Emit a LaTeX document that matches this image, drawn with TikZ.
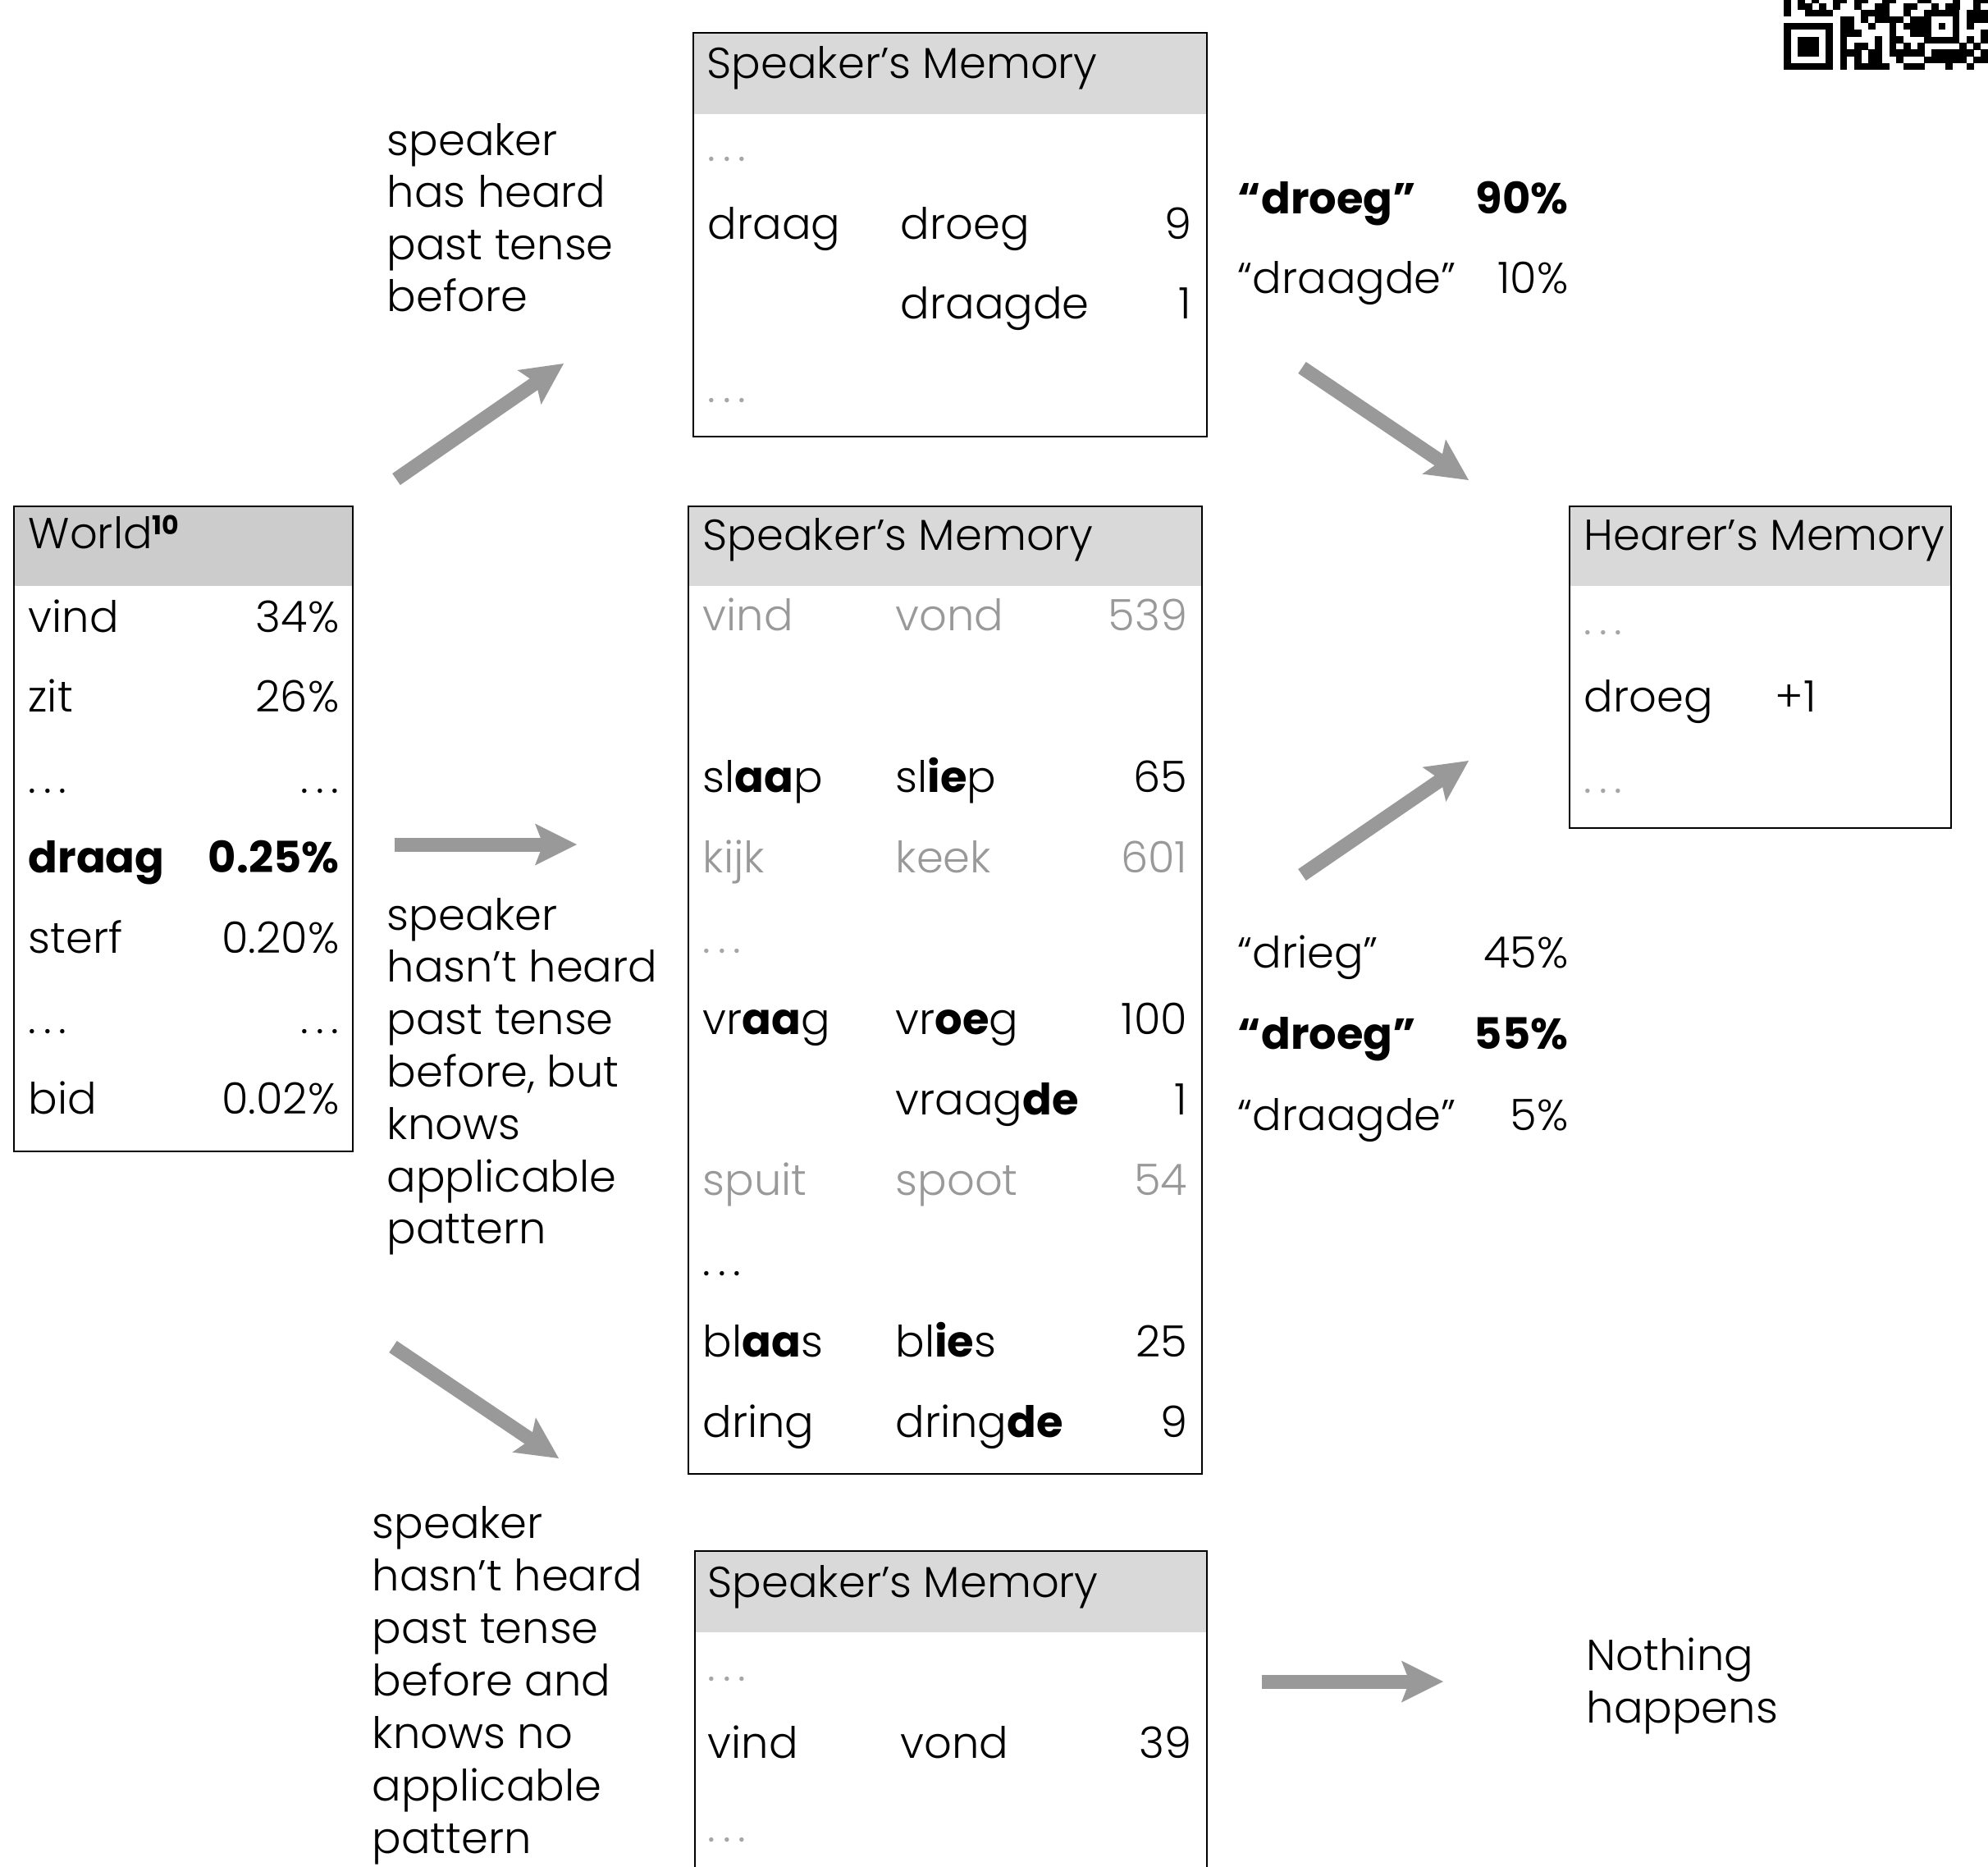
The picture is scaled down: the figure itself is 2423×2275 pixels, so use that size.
\documentclass[tikz,border=0pt]{standalone}
\usepackage{fontspec}
\setmainfont{Poppins}[UprightFont=* Light, BoldFont=* Bold]
\usetikzlibrary{arrows.meta,fit}
\definecolor{hdrA}{HTML}{CCCCCC}
\definecolor{hdrB}{HTML}{D9D9D9}
\definecolor{arrowgray}{HTML}{999999}
\definecolor{txtgray}{HTML}{999999}
\definecolor{dotgray}{HTML}{A6A6A6}
\newcommand{\spdots}{.\kern0.17em.\kern0.17em.}
\begin{document}
\begin{tikzpicture}[x=0.01cm, y=-0.01cm, font=\fontsize{15}{18}\selectfont,
  tl/.style={inner sep=0pt, anchor=base west},
  tr/.style={inner sep=0pt, anchor=base east},
  memframe/.style={draw=black, line width=0.6pt, inner sep=0pt},
  bigarrow/.style={draw=arrowgray, line width=0.17cm,
    -{Stealth[length=0.51cm, width=0.51cm, inset=0.1cm, line width=0pt]}},
  dimrow/.style={text=txtgray},
  dotrow/.style={text=dotgray}]
\useasboundingbox (0,0) rectangle (2423,2275);
\begin{scope}
\clip (0,0) rectangle (2423,2275);

% ---------- header bands ----------
\fill[hdrA] (17,617) rectangle (430,714);
\fill[hdrB] (845,40) rectangle (1471,139);
\fill[hdrB] (839,617) rectangle (1465,714);
\fill[hdrB] (1913,617) rectangle (2378,714);
\fill[hdrB] (847,1890) rectangle (1471,1989);

% ---------- frames ----------
\coordinate (w1) at (17,617);   \coordinate (w2) at (430,1403);
\node[memframe, fit=(w1)(w2)] (world) {};
\coordinate (s1) at (845,40);   \coordinate (s2) at (1471,532);
\node[memframe, fit=(s1)(s2)] (spkTop) {};
\coordinate (m1) at (839,617);  \coordinate (m2) at (1465,1796);
\node[memframe, fit=(m1)(m2)] (spkMid) {};
\coordinate (h1) at (1913,617); \coordinate (h2) at (2378,1009);
\node[memframe, fit=(h1)(h2)] (hearer) {};
\coordinate (b1) at (847,1890); \coordinate (b2) at (1471,2320);
\node[memframe, fit=(b1)(b2)] (spkBot) {};

% ---------- World ----------
\node[tl] (wH) at (34,668) {World\raisebox{4.6pt}{\fontsize{9}{9}\selectfont\bfseries 10}};
\node[tl] (w1a) at (34,770) {vind};   \node[tr] (w1b) at (414,770) {34\%};
\node[tl] (w2a) at (34,867) {zit};    \node[tr] (w2b) at (414,867) {26\%};
\node[tl] (w3a) at (34,966) {\spdots};      \node[tr] (w3b) at (414,966) {\spdots};
\node[tl] (w4a) at (34,1063) {\bfseries draag}; \node[tr] (w4b) at (414,1063) {\bfseries 0.25\%};
\node[tl] (w5a) at (34,1161) {sterf}; \node[tr] (w5b) at (414,1161) {0.20\%};
\node[tl] (w6a) at (34,1259) {\spdots};     \node[tr] (w6b) at (414,1259) {\spdots};
\node[tl] (w7a) at (34,1357) {bid};   \node[tr] (w7b) at (414,1357) {0.02\%};

% ---------- Speaker's memory (top) ----------
\node[tl] (sH) at (861,95) {Speaker’s Memory};
\node[tl, dotrow] (s1a) at (862,196) {\spdots};
\node[tl] (s2a) at (862,291) {draag};
\node[tl] (s2b) at (1097,291) {droeg};
\node[tr] (s2c) at (1453,291) {9};
\node[tl] (s3b) at (1097,388) {draagde};
\node[tr] (s3c) at (1453,388) {1};
\node[tl, dotrow] (s4a) at (862,490) {\spdots};

% ---------- Speaker's memory (middle) ----------
\node[tl] (mH) at (856,670) {Speaker’s Memory};
\node[tl, dimrow] (m0a) at (856,768) {vind};
\node[tl, dimrow] (m0b) at (1091,768) {vond};
\node[tr, dimrow] (m0c) at (1448,768) {539};
\node[tl] (m2a) at (856,965) {sl\textbf{aa}p};
\node[tl] (m2b) at (1091,965) {sl\textbf{ie}p};
\node[tr] (m2c) at (1448,965) {65};
\node[tl, dimrow] (m3a) at (856,1063) {kijk};
\node[tl, dimrow] (m3b) at (1091,1063) {keek};
\node[tr, dimrow] (m3c) at (1448,1063) {601};
\node[tl, dotrow] (m4a) at (856,1161) {\spdots};
\node[tl] (m5a) at (856,1260) {vr\textbf{aa}g};
\node[tl] (m5b) at (1091,1260) {vr\textbf{oe}g};
\node[tr] (m5c) at (1448,1260) {100};
\node[tl] (m6b) at (1091,1358) {vraag\textbf{de}};
\node[tr] (m6c) at (1448,1358) {1};
\node[tl, dimrow] (m7a) at (856,1456) {spuit};
\node[tl, dimrow] (m7b) at (1091,1456) {spoot};
\node[tr, dimrow] (m7c) at (1448,1456) {54};
\node[tl] (m8a) at (856,1554) {\spdots};
\node[tl] (m9a) at (856,1653) {bl\textbf{aa}s};
\node[tl] (m9b) at (1091,1653) {bl\textbf{ie}s};
\node[tr] (m9c) at (1448,1653) {25};
\node[tl] (m10a) at (856,1751) {dring};
\node[tl] (m10b) at (1091,1751) {dring\textbf{de}};
\node[tr] (m10c) at (1448,1751) {9};

% ---------- Hearer's memory ----------
\node[tl] (hH) at (1930,670) {Hearer’s Memory};
\node[tl, dotrow] (h1a) at (1930,773) {\spdots};
\node[tl] (h2a) at (1930,867) {droeg};
\node[tl] (h2b) at (2163,867) {+1};
\node[tl, dotrow] (h3a) at (1930,966) {\spdots};

% ---------- Speaker's memory (bottom) ----------
\node[tl] (bH) at (862,1946) {Speaker’s Memory};
\node[tl, dotrow] (b1a) at (862,2048) {\spdots};
\node[tl] (b2a) at (862,2142) {vind};
\node[tl] (b2b) at (1097,2142) {vond};
\node[tr] (b2c) at (1453,2142) {39};
\node[tl, dotrow] (b3a) at (862,2244) {\spdots};

% ---------- right-hand outcomes ----------
\node[tl] (r1a) at (1508,260) {\bfseries “droeg”};
\node[tr] (r1b) at (1912,260) {\bfseries 90\%};
\node[tl] (r2a) at (1508,357) {“draagde”};
\node[tr] (r2b) at (1912,357) {10\%};
\node[tl] (r3a) at (1508,1179) {“drieg”};
\node[tr] (r3b) at (1912,1179) {45\%};
\node[tl] (r4a) at (1508,1278) {\bfseries “droeg”};
\node[tr] (r4b) at (1912,1278) {\bfseries 55\%};
\node[tl] (r5a) at (1508,1377) {“draagde”};
\node[tr] (r5b) at (1912,1377) {5\%};

\node[tl] (n1) at (1933,2035) {Nothing};
\node[tl] (n2) at (1933,2099) {happens};

% ---------- left-hand conditions ----------
\foreach \t [count=\i from 0] in {speaker, has heard, past tense, before}
  \node[tl] (c1-\i) at (471,{189+63.5*\i}) {\t};
\foreach \t [count=\i from 0] in {speaker, hasn’t heard, past tense, {before, but}, knows, applicable, pattern}
  \node[tl] (c2-\i) at (471,{1133+63.8*\i}) {\t};
\foreach \t [count=\i from 0] in {speaker, hasn’t heard, past tense, before and, knows no, applicable, pattern}
  \node[tl] (c3-\i) at (453,{1874+64*\i}) {\t};

% ---------- arrows ----------
\coordinate (a1s) at (483,584);   \coordinate (a1e) at (687,443);
\coordinate (a2s) at (1587,448);  \coordinate (a2e) at (1790,585);
\coordinate (a3s) at (481,1029);  \coordinate (a3e) at (703,1029);
\coordinate (a4s) at (1587,1066); \coordinate (a4e) at (1790,927);
\coordinate (a5s) at (479,1641);  \coordinate (a5e) at (681,1777);
\coordinate (a6s) at (1538,2049); \coordinate (a6e) at (1759,2049);
\draw[bigarrow] (a1s) -- (a1e);
\draw[bigarrow] (a2s) -- (a2e);
\draw[bigarrow] (a3s) -- (a3e);
\draw[bigarrow] (a4s) -- (a4e);
\draw[bigarrow] (a5s) -- (a5e);
\draw[bigarrow] (a6s) -- (a6e);

% ---------- QR code fragment (top right) ----------
\begin{scope}[shift={(2174,85)}]
  \fill (0,0) rectangle ({8.57*7},{-8.1*7});
  \fill[white] (8.57,-8.1) rectangle ({8.57*6},{-8.1*6});
  \fill ({8.57*2},{-8.1*2}) rectangle ({8.57*5},{-8.1*5});
  \fill ({8.57*20},{-8.1*4}) rectangle ({8.57*25},{-8.1*9});
  \fill[white] ({8.57*21},{-8.1*5}) rectangle ({8.57*24},{-8.1*8});
  \fill ({8.57*22},{-8.1*6}) rectangle ({8.57*23},{-8.1*7});
  \foreach \b/\cols in {
    0/{8,10,11,12,13,14,17,18,19,23,26},
    1/{8,10,12,13,16,20,21,22,23,24,25,27,28},
    2/{8,9,10,12,13,15,16,17,18,19,21,22,23,24,25,26,28},
    3/{8,10,11,13,15,17,19,25,27},
    4/{8,13,15,16,26,28},
    5/{8,9,10,15,18,19,28},
    6/{8,9,12,15,17,18,19,26},
    7/{8,9,11,13,14,15,16,18,19,26,27,28},
    8/{0,3,4,5,6,11,12,13,14,17,26,27,28},
    9/{0,2,3,5,7,10,13,14,17,18,21,23,24,27},
    10/{0,2,4,7,8,10,11,14,15,19,20,24,27,28}}
  {
    \foreach \c in \cols
      \fill ({8.57*\c},{-8.1*\b}) rectangle ({8.57*(\c+1)+0.3},{-8.1*(\b+1)-0.3});
  }
\end{scope}
\end{scope}
\end{tikzpicture}
\end{document}
